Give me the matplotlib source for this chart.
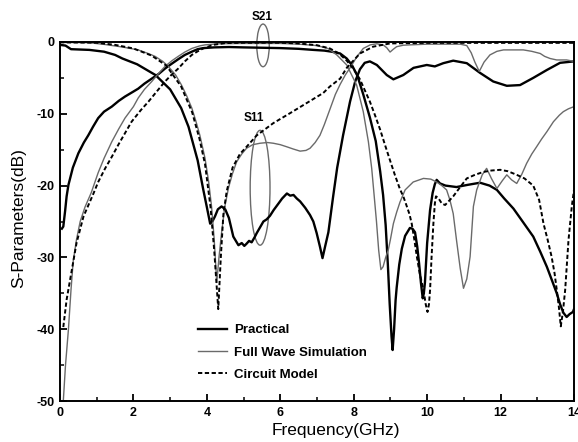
import matplotlib
matplotlib.use("Agg")
import matplotlib.pyplot as plt
from matplotlib.patches import Ellipse
from matplotlib.ticker import MultipleLocator

plt.rcParams['font.family'] = ['Liberation Sans', 'DejaVu Sans']
plt.rcParams['axes.unicode_minus'] = False

# ---------------- data (GHz, dB) ----------------
prac_s21_f = [0.05, 0.09, 0.14, 0.18, 0.23, 0.35, 0.5, 0.65, 0.77, 0.9, 1.04, 1.2, 1.41, 1.6, 1.77, 2.0, 2.13, 2.3,
              2.5, 2.7, 2.86, 3.05, 3.22, 3.4, 3.59, 3.75, 3.9, 4.2, 4.6, 5.0, 5.5, 6.0, 6.5, 6.9, 7.2, 7.4, 7.63,
              7.81, 7.95, 8.1, 8.26, 8.44, 8.6, 8.72, 8.8, 8.87, 8.93, 8.98, 9.03, 9.06, 9.1, 9.14, 9.17, 9.24,
              9.31, 9.4, 9.53, 9.6, 9.67, 9.73, 9.78, 9.83, 9.88, 9.91, 9.94, 10.0, 10.08, 10.15, 10.21, 10.26,
              10.35, 10.5, 10.8, 11.1, 11.44, 11.7, 11.9, 12.1, 12.35, 12.6, 12.89, 13.08, 13.26, 13.4, 13.53,
              13.62, 13.71, 13.8, 13.88, 13.97, 14.0]
prac_s21_db = [-26.0, -25.7, -23.5, -21.5, -19.9, -17.5, -15.5, -14.0, -13.0, -11.8, -10.6, -9.7, -9.0, -8.2, -7.6,
               -6.9, -6.5, -5.8, -5.1, -4.4, -3.7, -3.0, -2.4, -1.8, -1.35, -1.0, -0.85, -0.75, -0.7, -0.75, -0.8,
               -0.85, -0.95, -1.1, -1.2, -1.35, -1.6, -2.3, -3.2, -4.7, -7.3, -10.5, -13.8, -18.0, -21.3, -25.5,
               -31.0, -36.5, -41.0, -42.9, -40.0, -36.0, -34.2, -31.0, -28.8, -27.0, -25.9, -26.0, -26.5, -28.5,
               -30.8, -33.5, -35.7, -35.0, -33.5, -28.0, -23.4, -21.0, -19.8, -19.2, -19.7, -20.0, -20.2, -19.9,
               -19.6, -20.0, -20.6, -21.8, -23.2, -25.0, -27.1, -29.2, -31.3, -33.2, -35.0, -36.5, -37.7, -38.3,
               -37.9, -37.6, -37.2]

prac_s11_f = [0.0, 0.15, 0.3, 0.8, 1.2, 1.5, 1.7, 2.1, 2.6, 3.0, 3.3, 3.5, 3.75, 3.9, 4.0, 4.09, 4.15, 4.22, 4.3,
              4.4, 4.5, 4.6, 4.72, 4.86, 4.95, 5.02, 5.08, 5.15, 5.22, 5.3, 5.36, 5.45, 5.54, 5.63, 5.72, 5.82,
              5.95, 6.05, 6.18, 6.27, 6.36, 6.45, 6.54, 6.68, 6.81, 6.9, 6.99, 7.08, 7.15, 7.22, 7.31, 7.44, 7.55,
              7.71, 7.9, 8.04, 8.17, 8.3, 8.44, 8.63, 8.9, 9.08, 9.35, 9.63, 9.99, 10.21, 10.44, 10.71, 11.08,
              11.44, 11.8, 12.17, 12.53, 12.89, 13.26, 13.62, 14.0]
prac_s11_db = [-0.4, -0.5, -1.0, -1.1, -1.35, -1.8, -2.3, -3.1, -4.6, -6.6, -9.2, -11.8, -16.5, -20.5, -23.0,
               -25.3, -25.0, -24.3, -23.3, -22.9, -23.3, -24.5, -27.1, -28.3, -28.0, -28.4, -28.1, -27.7, -27.9,
               -27.2, -26.6, -25.8, -25.0, -24.7, -24.2, -23.4, -22.5, -21.8, -21.1, -21.4, -21.3, -21.8, -22.2,
               -23.1, -24.1, -25.0, -26.6, -28.5, -30.1, -28.5, -26.5, -21.5, -17.5, -13.0, -8.3, -5.5, -3.8,
               -2.9, -2.7, -3.2, -4.6, -5.2, -4.6, -3.6, -3.2, -3.4, -2.95, -2.6, -2.95, -4.3, -5.5, -6.1, -6.0,
               -5.0, -3.9, -2.9, -2.7]

fw_s21_f = [0.09, 0.15, 0.23, 0.3, 0.36, 0.45, 0.55, 0.68, 0.85, 1.04, 1.2, 1.41, 1.6, 1.77, 2.0, 2.13, 2.3, 2.5,
            2.7, 2.86, 3.05, 3.22, 3.4, 3.59, 3.8, 3.95, 4.3, 5.0, 6.0, 6.5, 7.0, 7.3, 7.54, 7.81, 8.08, 8.26, 8.4,
            8.49, 8.55, 8.62, 8.68, 8.74, 8.8, 8.87, 8.94, 9.0, 9.08, 9.17, 9.26, 9.4, 9.62, 9.9, 10.1, 10.26,
            10.4, 10.53, 10.62, 10.71, 10.8, 10.9, 10.99, 11.08, 11.17, 11.26, 11.35, 11.5, 11.62, 11.75, 11.9,
            12.05, 12.17, 12.3, 12.44, 12.58, 12.71, 12.85, 12.98, 13.12, 13.26, 13.44, 13.6, 13.71, 13.85, 14.0]
fw_s21_db = [-50.0, -45.0, -40.0, -34.5, -30.5, -27.5, -25.0, -23.0, -21.0, -18.2, -16.2, -13.9, -12.1, -10.6,
             -9.0, -7.8, -6.6, -5.5, -4.3, -3.4, -2.6, -2.0, -1.4, -0.9, -0.55, -0.4, -0.25, -0.2, -0.2, -0.3,
             -0.5, -0.9, -1.8, -3.2, -6.0, -9.7, -13.9, -17.6, -21.0, -25.0, -29.0, -31.7, -31.3, -30.0, -29.0,
             -27.5, -25.3, -23.7, -22.3, -20.6, -19.5, -19.0, -19.1, -19.5, -20.0, -20.6, -22.0, -23.9, -27.6,
             -31.5, -34.3, -33.0, -29.9, -22.9, -20.6, -18.5, -17.6, -19.0, -20.4, -19.3, -18.5, -19.2, -19.7,
             -18.4, -16.9, -15.6, -14.6, -13.5, -12.5, -11.1, -10.2, -9.7, -9.3, -9.0]

fw_s11_f = [0.0, 0.8, 1.23, 1.7, 2.13, 2.4, 2.59, 2.8, 2.95, 3.15, 3.31, 3.45, 3.59, 3.7, 3.81, 3.95, 4.05, 4.13,
            4.2, 4.27, 4.33, 4.4, 4.49, 4.59, 4.7, 4.81, 4.95, 5.08, 5.25, 5.45, 5.65, 5.81, 6.0, 6.18, 6.35, 6.54,
            6.7, 6.81, 6.95, 7.08, 7.2, 7.35, 7.5, 7.63, 7.77, 7.9, 8.08, 8.26, 8.45, 8.63, 8.8, 8.9, 8.99, 9.08,
            9.17, 9.35, 9.53, 10.0, 10.5, 10.9, 11.08, 11.2, 11.3, 11.42, 11.55, 11.71, 11.9, 12.08, 12.62,
            12.85, 13.08, 13.2, 13.35, 13.53, 13.8, 14.0]
fw_s11_db = [-0.05, -0.1, -0.35, -0.7, -1.1, -1.6, -2.0, -2.7, -3.4, -4.6, -6.0, -7.5, -9.2, -11.0, -13.0, -16.2,
             -19.5, -23.0, -27.5, -33.5, -30.0, -26.6, -22.9, -20.3, -18.3, -16.7, -15.6, -14.8, -14.3, -14.1,
             -14.0, -14.1, -14.3, -14.6, -14.9, -15.2, -15.1, -14.8, -14.0, -13.0, -11.5, -9.4, -7.3, -5.9, -4.6,
             -3.6, -2.1, -0.9, -0.4, -0.25, -0.4, -0.8, -1.4, -1.0, -0.65, -0.45, -0.4, -0.3, -0.3, -0.3, -0.5,
             -1.5, -2.8, -4.1, -2.8, -1.8, -1.3, -1.1, -1.1, -1.3, -1.6, -2.0, -2.3, -2.5, -2.5, -2.7]

cm_s21_f = [0.09, 0.18, 0.32, 0.45, 0.64, 0.92, 1.04, 1.23, 1.41, 1.59, 1.77, 1.95, 2.2, 2.41, 2.65, 2.86, 3.05,
            3.22, 3.4, 3.59, 3.75, 3.9, 4.17, 4.5, 5.0, 6.0, 6.5, 7.0, 7.35, 7.6, 7.81, 8.0, 8.17, 8.3, 8.44, 8.58,
            8.72, 8.85, 8.99, 9.12, 9.26, 9.35, 9.44, 9.52, 9.58, 9.65, 9.72, 9.8, 9.9, 9.96, 10.01, 10.05, 10.08,
            10.12, 10.17, 10.21, 10.24, 10.3, 10.4, 10.49, 10.6, 10.71, 10.9, 11.08, 11.3, 11.53, 11.75, 11.99,
            12.2, 12.44, 12.65, 12.89, 13.05, 13.17, 13.28, 13.39, 13.47, 13.53, 13.59, 13.64, 13.7, 13.76,
            13.85, 13.94, 14.0]
cm_s21_db = [-39.7, -35.9, -31.8, -28.0, -24.3, -21.0, -19.5, -17.6, -16.0, -14.3, -12.7, -11.1, -9.5, -8.3,
             -6.8, -5.5, -4.5, -3.7, -2.7, -1.8, -1.3, -0.9, -0.4, -0.15, -0.1, -0.1, -0.2, -0.45, -0.9, -1.6,
             -2.6, -3.8, -5.2, -6.7, -8.3, -10.2, -12.2, -14.3, -16.5, -18.5, -20.5, -21.5, -22.8, -24.0, -25.3,
             -27.5, -29.9, -32.3, -34.5, -36.5, -37.6, -36.5, -34.5, -30.0, -25.3, -22.5, -21.5, -21.7, -22.5,
             -22.7, -22.1, -21.5, -20.2, -19.0, -18.5, -18.1, -17.9, -17.8, -18.0, -18.5, -19.0, -20.0, -22.0,
             -25.3, -27.5, -29.9, -32.2, -34.5, -37.0, -39.6, -37.5, -34.5, -27.6, -22.9, -20.6]

cm_s11_f = [0.0, 1.0, 1.5, 2.0, 2.5, 2.9, 3.3, 3.6, 3.8, 3.95, 4.1, 4.2, 4.31, 4.38, 4.45, 4.54, 4.7, 4.9, 5.08,
            5.36, 5.81, 6.27, 6.72, 7.17, 7.35, 7.63, 7.81, 8.17, 8.53, 8.99, 10.0, 12.0, 14.0]
cm_s11_db = [-0.05, -0.1, -0.4, -0.9, -1.9, -3.3, -6.2, -9.8, -13.5, -17.0, -23.0, -29.0, -37.2, -30.0, -24.0,
             -20.8, -17.5, -15.6, -14.6, -13.0, -11.3, -9.9, -8.5, -7.1, -6.2, -5.1, -3.6, -1.6, -0.65, -0.2,
             -0.12, -0.12, -0.12]

legend_labels = ["Practical", "Full Wave Simulation", "Circuit Model"]
x_ticks = [0, 2, 4, 6, 8, 10, 12, 14]
y_ticks = [0, -10, -20, -30, -40, -50]

# ---------------- figure ----------------
W, H = 578, 442
fig = plt.figure(figsize=(W / 100, H / 100), dpi=100)
ax = fig.add_axes([60 / W, 1 - 401 / H, 514 / W, 359 / H])

gray = '#6a6a6a'
dash = (0, (2.2, 1.3))

l1, = ax.plot(prac_s21_f, prac_s21_db, color='black', lw=1.7, label=legend_labels[0])
ax.plot(prac_s11_f, prac_s11_db, color='black', lw=1.7)
l2, = ax.plot(fw_s21_f, fw_s21_db, color=gray, lw=1.0, label=legend_labels[1])
ax.plot(fw_s11_f, fw_s11_db, color=gray, lw=1.0)
l3, = ax.plot(cm_s21_f, cm_s21_db, color='black', lw=1.4, ls=dash, label=legend_labels[2])
ax.plot(cm_s11_f, cm_s11_db, color='black', lw=1.4, ls=dash)

ax.add_patch(Ellipse((5.53, -0.47), 0.34, 5.94, fill=False, ec=gray, lw=1.0, clip_on=False))
ax.add_patch(Ellipse((5.45, -20.3), 0.54, 16.0, fill=False, ec=gray, lw=1.0, clip_on=False))

ax.text(5.5, 3.5, "S21", ha='center', va='center', fontsize=8.5, fontweight='bold')
ax.text(5.28, -10.6, "S11", ha='center', va='center', fontsize=8.5, fontweight='bold')

ax.set_xlim(0, 14)
ax.set_ylim(-50, 0)
ax.set_xticks(x_ticks)
ax.set_yticks(y_ticks)
ax.xaxis.set_minor_locator(MultipleLocator(1))
ax.yaxis.set_minor_locator(MultipleLocator(5))
ax.tick_params(which='both', direction='in', top=False, right=False)
ax.tick_params(which='major', length=5, width=1.3, labelsize=9, pad=4)
ax.tick_params(which='minor', length=3, width=1.1)
for lab in ax.get_xticklabels() + ax.get_yticklabels():
    lab.set_fontweight('bold')
for s in ax.spines.values():
    s.set_linewidth(1.4)

ax.set_xlabel("Frequency(GHz)", fontsize=12.5)
ax.xaxis.set_label_coords(0.537, -0.062)
ax.set_ylabel("S-Parameters(dB)", fontsize=12.5)
ax.yaxis.set_label_coords(-0.066, 0.51)

leg = ax.legend(handles=[l1, l2, l3], loc='upper left', bbox_to_anchor=(0.268, 0.214),
                frameon=False, fontsize=9.5, handlelength=2.2, handletextpad=0.55,
                labelspacing=0.75, borderpad=0, borderaxespad=0)
for t in leg.get_texts():
    t.set_fontweight('bold')

fig.savefig("out.png", dpi=100)
